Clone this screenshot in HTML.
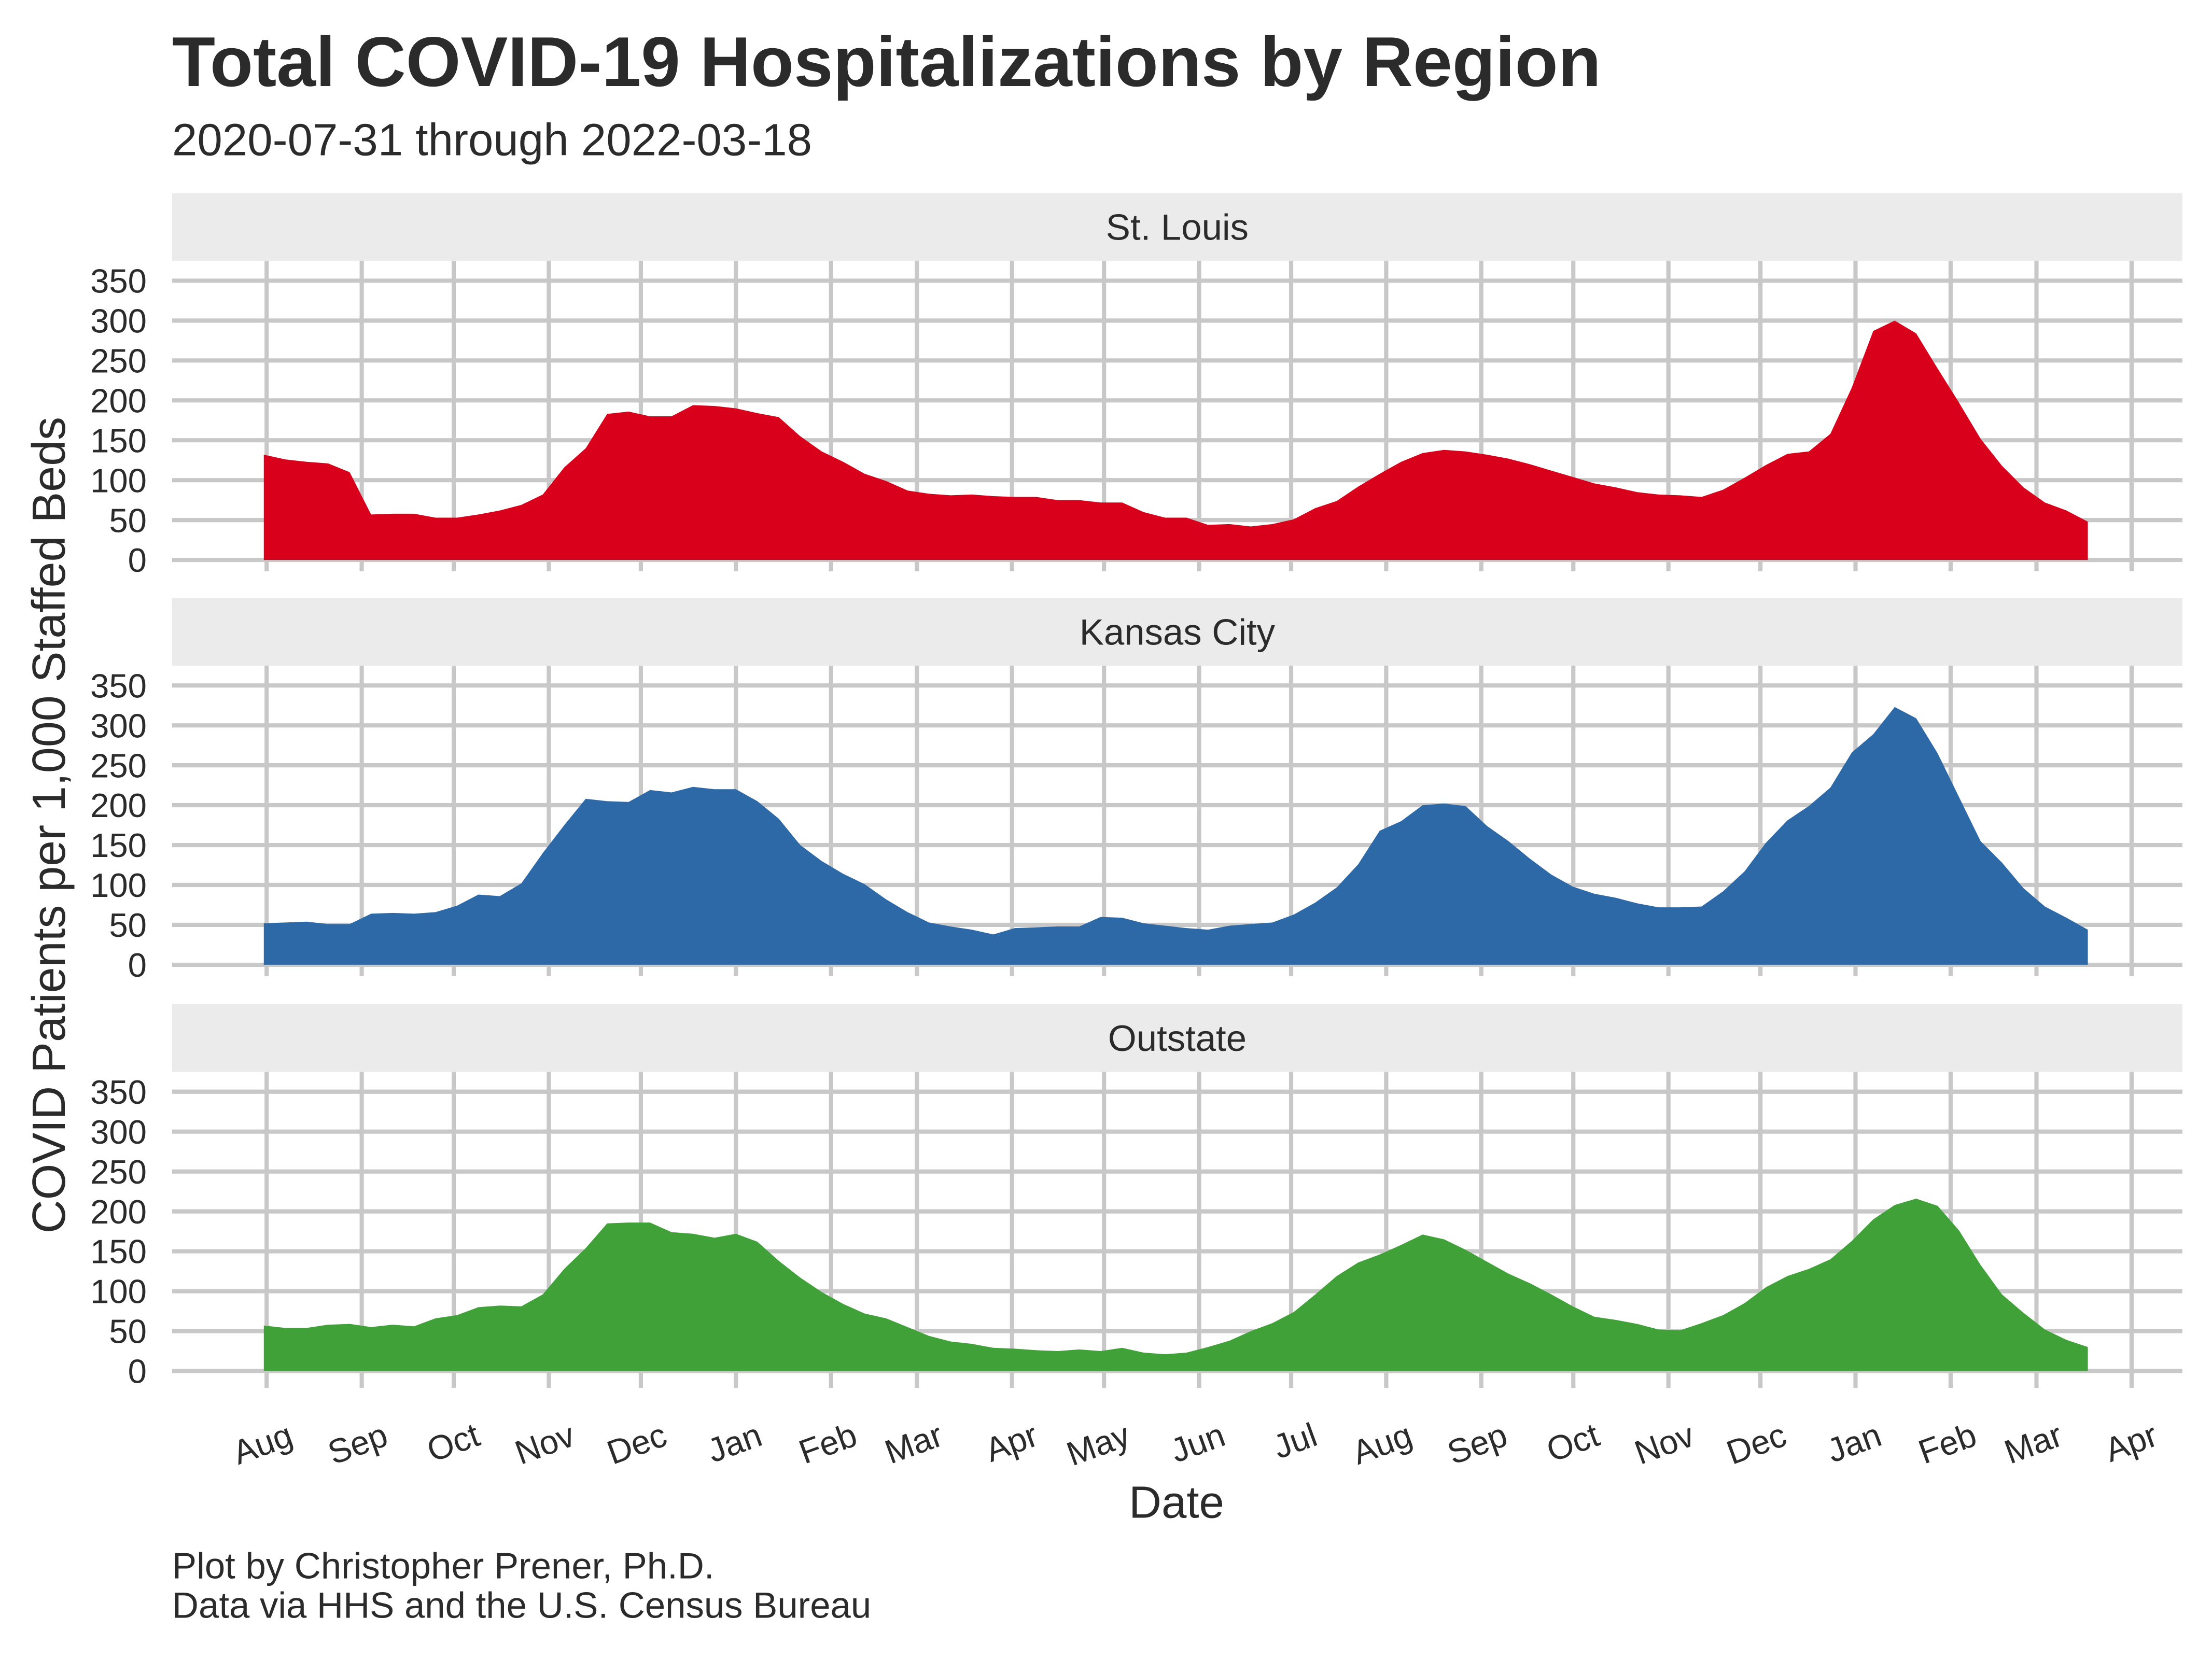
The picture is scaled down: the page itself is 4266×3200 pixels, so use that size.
<!DOCTYPE html>
<html><head><meta charset="utf-8"><style>
html,body{margin:0;padding:0;background:#fff}
svg{display:block}
text{font-family:"Liberation Sans",sans-serif;fill:#2b2b2b}
</style></head><body>
<svg id="chart" width="4266" height="3200" viewBox="0 0 1568 1176.2" xmlns="http://www.w3.org/2000/svg">
<text x="122" y="61" font-size="50" font-weight="bold">Total COVID-19 Hospitalizations by Region</text>
<text x="122" y="110" font-size="32">2020-07-31 through 2022-03-18</text>
<text transform="translate(46,585) rotate(-90)" text-anchor="middle" font-size="33">COVID Patients per 1,000 Staffed Beds</text>
<text x="834" y="1076" text-anchor="middle" font-size="32">Date</text>
<text x="122" y="1119" font-size="26">Plot by Christopher Prener, Ph.D.</text>
<text x="122" y="1147" font-size="26">Data via HHS and the U.S. Census Bureau</text>
<g id="panels"></g>
</svg>
<script>
const regions = ["St. Louis","Kansas City","Outstate"];
const startDate = "2020-07-31";
const stlValues = [132,126,123,121,110,57,58,58,53,53,57,62,69,82,116,140,183,186,180,180,194,193,190,184,179,155,136,123,108,99,87,83,81,82,80,79,79,75,75,72,72,60,53,53,44,45,42,45,51,65,74,92,108,123,134,138,136,132,127,120,112,104,96,91,85,82,81,79,88,103,119,133,136,158,216,287,300,284,240,197,152,118,91,72,62,48];
const kcValues = [52,53,54,51,51,64,65,64,66,74,88,86,102,140,175,208,205,204,219,216,223,220,220,205,183,150,130,114,101,82,66,53,48,44,38,46,47,48,48,60,59,52,49,46,44,49,51,53,63,78,97,126,168,180,200,202,199,174,155,133,113,98,89,84,77,72,72,73,92,117,153,181,199,222,266,289,323,309,265,210,155,128,96,73,59,44];
const outValues = [57,54,54,58,59,55,58,56,66,70,80,82,81,96,128,154,185,186,186,174,172,167,172,162,138,117,99,84,72,66,55,44,37,34,29,28,26,25,27,25,29,23,21,23,30,38,50,60,74,96,119,136,146,158,171,165,152,137,122,110,96,81,68,64,59,52,51,60,70,85,105,119,128,140,163,190,208,216,207,176,133,96,73,52,39,30];
const yTicks = [0,50,100,150,200,250,300,350];
const monthTicks = ["2020-08-01","2020-09-01","2020-10-01","2020-11-01","2020-12-01","2021-01-01","2021-02-01","2021-03-01","2021-04-01","2021-05-01","2021-06-01","2021-07-01","2021-08-01","2021-09-01","2021-10-01","2021-11-01","2021-12-01","2022-01-01","2022-02-01","2022-03-01","2022-04-01"];
const monthLabels = ["Aug","Sep","Oct","Nov","Dec","Jan","Feb","Mar","Apr","May","Jun","Jul","Aug","Sep","Oct","Nov","Dec","Jan","Feb","Mar","Apr"];

const series=[stlValues,kcValues,outValues];
const colors=["#d8001a","#2d68a7","#40a138"];
const NS="http://www.w3.org/2000/svg";
const t0=Date.parse("2020-08-01"), t1=Date.parse("2022-04-01");
function xScale(d){return 189+(Date.parse(d)-t0)/(t1-t0)*(1511-189);}
const xStart=187, xEnd=1480;
function xFromIdx(i,n){return xStart+i*(xEnd-xStart)/(n-1);}
const panelTops=[137,424,712];
const g=document.getElementById("panels");
function el(tag,attrs,parent){const e=document.createElementNS(NS,tag);for(const k in attrs)e.setAttribute(k,attrs[k]);(parent||g).appendChild(e);return e;}
panelTops.forEach((top,p)=>{
  const pg=el("g",{});
  
  
  const strip=el("rect",{x:122,y:top,width:1425,height:48,fill:"#ebebeb"},pg);
  
  
  const st=el("text",{x:834.5,y:top+33,"text-anchor":"middle","font-size":26},pg);
  st.textContent=regions[p];
  
  
  const y0=top+260, y350=top+62;
  const yS=v=>y0-(v/350)*(y0-y350);
  const bottom = p===2 ? y0+12 : y0+8;
  monthTicks.forEach(d=>{
    const l=el("line",{x1:xScale(d),x2:xScale(d),y1:top+48,y2:bottom,stroke:"#c8c8c8","stroke-width":3},pg);
    
    
  });
  yTicks.forEach(v=>{
    const l=el("line",{x1:122,x2:1547,y1:yS(v),y2:yS(v),stroke:"#c8c8c8","stroke-width":3},pg);
    
    
    const t=el("text",{x:104,y:yS(v)+8.5,"text-anchor":"end","font-size":24},pg);
    t.textContent=v;
    
    
  });
  const vals=series[p], n=vals.length;
  let d="M"+xFromIdx(0,n)+","+yS(0);
  vals.forEach((v,i)=>{d+=" L"+xFromIdx(i,n).toFixed(2)+","+yS(v).toFixed(2);});
  d+=" L"+xFromIdx(n-1,n).toFixed(2)+","+yS(0)+" Z";
  const a=el("path",{d:d,fill:colors[p]},pg);
  
  
  if(p===2){
    monthTicks.forEach((dd,i)=>{
      const x=xScale(dd);
      const t=el("text",{x:x+20,y:y0+52,"text-anchor":"end","font-size":24,transform:"rotate(-20 "+(x+20)+" "+(y0+52)+")"},pg);
      t.textContent=monthLabels[i];
      
      
    });
  }
});
</script>
</body></html>
